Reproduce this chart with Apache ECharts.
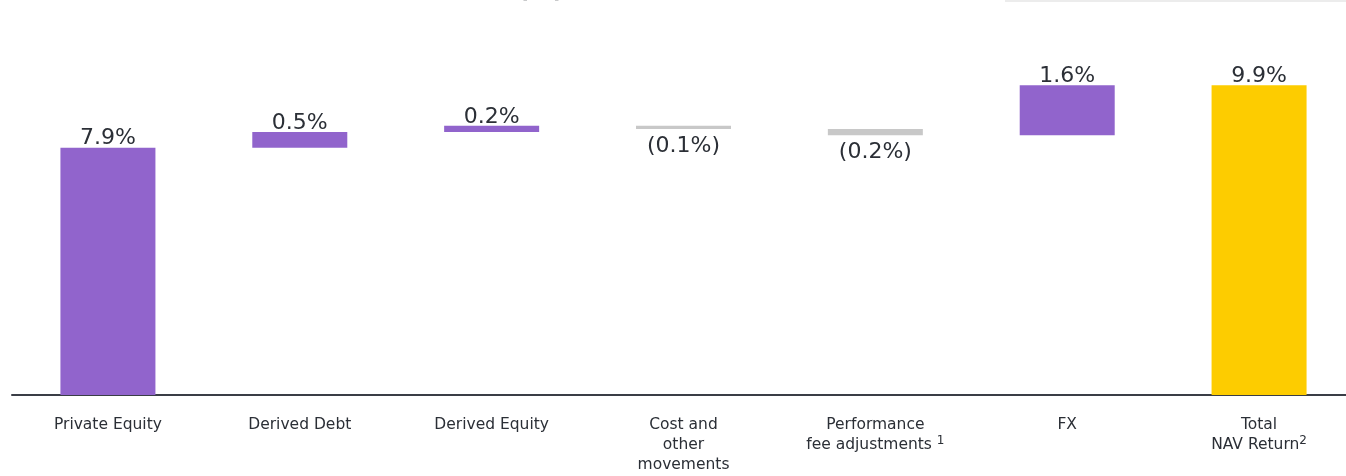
<!DOCTYPE html>
<html>
<head>
<meta charset="utf-8">
<script src="https://cdn.jsdelivr.net/npm/echarts@6/dist/echarts.min.js"></script>
<style>
html,body{margin:0;padding:0;background:#fff;overflow:hidden;}
#chart{width:1360px;height:476px;}
</style>
</head>
<body>
<div id="chart"></div>
<script>
var categories = ['Private Equity', 'Derived Debt', 'Derived Equity', 'Cost and\nother\nmovements', 'Performance\nfee adjustments {sup|1}', 'FX', 'Total\nNAV Return{sup|2}'];
var changes = [7.9, 0.5, 0.2, -0.1, -0.2, 1.6, null];
var totalValue = 9.9;
var titleText = '(%)';

var baseData = [], posData = [], negData = [], totData = [];
var running = 0;
for (var i = 0; i < categories.length; i++) {
  var v = changes[i];
  if (v === null) {
    baseData.push(0); posData.push('-'); negData.push('-'); totData.push(totalValue);
  } else if (v >= 0) {
    baseData.push(running); posData.push(v); negData.push('-'); totData.push('-');
    running += v;
  } else {
    running += v;
    baseData.push(running); posData.push('-'); negData.push(-v); totData.push('-');
  }
}

var textColor = '#2b2f36';
var chart = echarts.init(document.getElementById('chart'));
chart.setOption({
  animation: false,
  grid: { left: 12, width: 1343, top: 82, bottom: 81, containLabel: false },
  xAxis: {
    type: 'category',
    data: categories,
    axisLine: { lineStyle: { color: '#3a3e46', width: 2 } },
    axisTick: { show: false },
    axisLabel: {
      interval: 0, color: textColor, fontFamily: 'DejaVu Sans', fontSize: 15.5, lineHeight: 20, margin: 20,
      rich: { sup: { fontSize: 12, color: textColor, fontFamily: 'DejaVu Sans', verticalAlign: 'top', padding: [0, 0, 18, 0] } }
    }
  },
  yAxis: { type: 'value', min: 0, max: 10, show: false, splitLine: { show: false } },
  series: [
    { type: 'bar', stack: 'w', data: baseData, barWidth: 95, itemStyle: { color: 'transparent' }, silent: true },
    { type: 'bar', stack: 'w', data: posData, barWidth: 95, itemStyle: { color: '#9164cc' },
      label: { show: true, position: 'top', distance: -2, color: textColor, fontFamily: 'DejaVu Sans', fontSize: 22,
        formatter: function (p) { return p.value.toFixed(1) + '%'; } } },
    { type: 'bar', stack: 'w', data: negData, barWidth: 95, itemStyle: { color: '#c8c8c8' },
      label: { show: true, position: 'bottom', distance: 6, color: textColor, fontFamily: 'DejaVu Sans', fontSize: 22,
        formatter: function (p) { return '(' + p.value.toFixed(1) + '%)'; } } },
    { type: 'bar', stack: 'w', data: totData, barWidth: 95, itemStyle: { color: '#fdcc00' },
      label: { show: true, position: 'top', distance: -2, color: textColor, fontFamily: 'DejaVu Sans', fontSize: 22,
        formatter: function (p) { return p.value.toFixed(1) + '%'; } } }
  ],
  graphic: [
    { type: 'text', left: 518, top: -21, style: { text: titleText, fill: textColor, font: 'bold 24px "DejaVu Sans"' } },
    { type: 'rect', shape: { x: 1005, y: 0, width: 341, height: 2 }, style: { fill: '#ececec' } }
  ]
});
</script>
</body>
</html>
